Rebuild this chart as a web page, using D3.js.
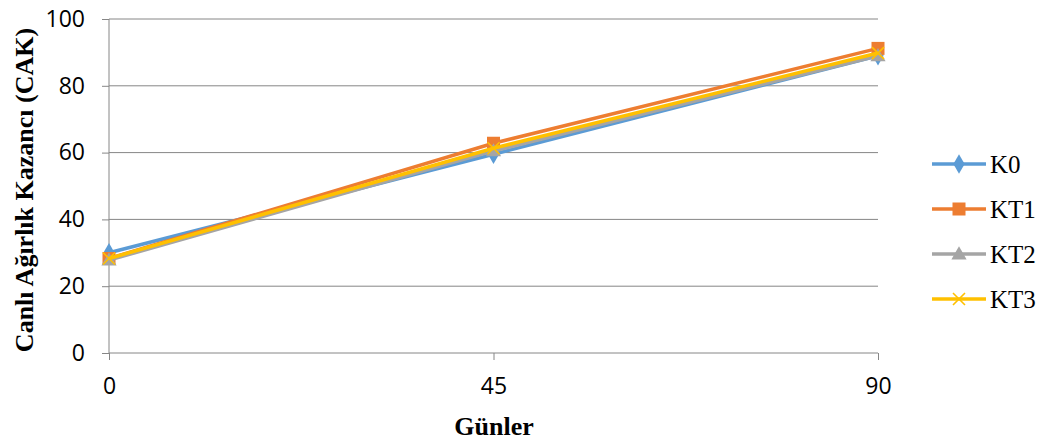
<!DOCTYPE html>
<html><head><meta charset="utf-8">
<script src="https://cdn.jsdelivr.net/npm/d3@7"></script>
<style>body{margin:0;background:#fff}svg{display:block}</style>
</head><body>
<script>
const categories = ["0", "45", "90"];
const seriesNames = ["K0", "KT1", "KT2", "KT3"];
const K0 = [30, 59.5, 89];
const KT1 = [28.3, 62.8, 91.2];
const KT2 = [27.8, 60.5, 89];
const KT3 = [28.3, 61.3, 89.8];
const yTicks = [0, 20, 40, 60, 80, 100];
const colors = ["#5B9BD5", "#ED7D31", "#A5A5A5", "#FFC000"];
const markers = ["diamond", "square", "triangle", "x"];
const series = [K0, KT1, KT2, KT3];

const W = 1042, H = 442;
const svg = d3.select("body").append("svg").attr("width", W).attr("height", H);
const x = d3.scalePoint().domain(categories).range([109, 878]);
const y = d3.scaleLinear().domain([0, 100]).range([353, 19]);

// gridlines
svg.append("g").selectAll("line").data(yTicks.slice(1)).join("line")
  .attr("x1", 109).attr("x2", 878).attr("y1", d => y(d)).attr("y2", d => y(d))
  .attr("stroke", "#868686").attr("stroke-width", 1);

const yAxis = svg.append("g").attr("transform", "translate(109,0)")
  .call(d3.axisLeft(y).tickValues(yTicks).tickSize(7).tickPadding(17));
const xAxis = svg.append("g").attr("transform", "translate(0,353)")
  .call(d3.axisBottom(x).tickSize(7).tickPadding(18));
[yAxis, xAxis].forEach(a => {
  a.selectAll("path,line").attr("stroke", "#868686").attr("stroke-width", 1);
  a.select(".domain").attr("d", a === yAxis ? "M0,19V353" : "M109,0H878");
  a.selectAll("text").attr("font-family", "'Open Sans', 'Liberation Sans', sans-serif")
    .attr("font-size", 23).attr("fill", "#000");
});

function drawMarker(g, type, cx, cy, color) {
  if (type === "diamond") {
    g.append("path").attr("d", d3.symbol(d3.symbolDiamond, 110)())
      .attr("transform", `translate(${cx},${cy})`).attr("fill", color);
  } else if (type === "square") {
    g.append("rect").attr("x", cx - 6.5).attr("y", cy - 6.5).attr("width", 13).attr("height", 13).attr("fill", color);
  } else if (type === "triangle") {
    g.append("path").attr("d", d3.symbol(d3.symbolTriangle, 100)())
      .attr("transform", `translate(${cx},${cy + 1})`).attr("fill", color);
  } else {
    g.append("path").attr("d", `M${cx-6},${cy-6}L${cx+6},${cy+6}M${cx-6},${cy+6}L${cx+6},${cy-6}`)
      .attr("stroke", color).attr("stroke-width", 1.6);
  }
}

const line = d3.line().x((d, i) => x(categories[i])).y(d => y(d));
series.forEach((s, k) => {
  const g = svg.append("g");
  g.append("path").datum(s).attr("d", line).attr("fill", "none")
    .attr("stroke", colors[k]).attr("stroke-width", 3.5).attr("stroke-linejoin", "round");
  s.forEach((v, i) => drawMarker(g, markers[k], x(categories[i]), y(v), colors[k]));
});

// legend
const leg = svg.append("g");
seriesNames.forEach((n, k) => {
  const ly = 164 + k * 45;
  leg.append("line").attr("x1", 932).attr("x2", 986).attr("y1", ly).attr("y2", ly)
    .attr("stroke", colors[k]).attr("stroke-width", 3.5);
  drawMarker(leg, markers[k], 959, ly, colors[k]);
  leg.append("text").attr("x", 990).attr("y", ly + 8.5).text(n)
    .attr("font-family", "'Liberation Serif', 'Times New Roman', serif").attr("font-size", 25);
});

svg.append("text").attr("x", 494).attr("y", 435).attr("text-anchor", "middle")
  .attr("font-family", "'Liberation Serif', serif").attr("font-weight", "bold").attr("font-size", 26)
  .text("Günler");
svg.append("text").attr("transform", "translate(33,190) rotate(-90)").attr("text-anchor", "middle")
  .attr("font-family", "'Liberation Serif', serif").attr("font-weight", "bold").attr("font-size", 26)
  .text("Canlı Ağırlık Kazancı (CAK)");
</script>
</body></html>
